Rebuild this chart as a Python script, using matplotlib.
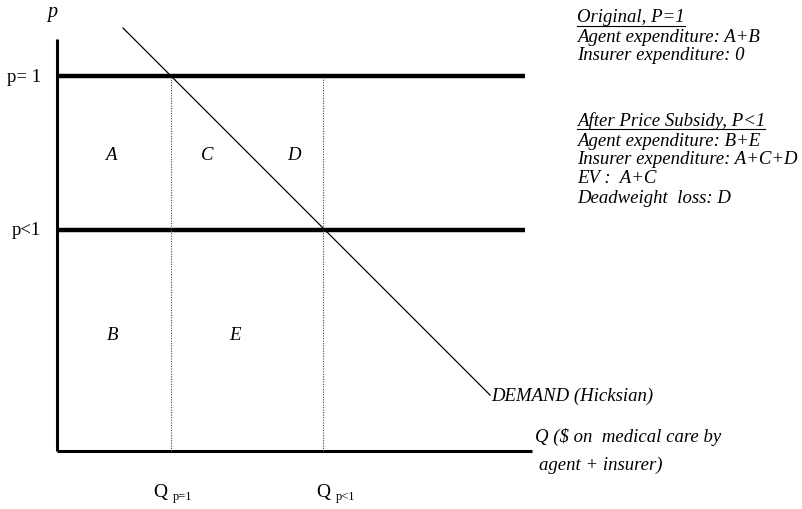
import matplotlib
matplotlib.use("Agg")
import matplotlib.pyplot as plt
from matplotlib.lines import Line2D

# ---- data (price / quantity units) ----
price_levels = [1.0, 0.59]          # p = 1, p < 1
price_labels = ["p= 1", "p<1"]
quantities = [0.304, 0.709]         # Q at p=1, Q at p<1
q_subscripts = ["p=1", "p<1"]
q_label_pos = [0.275, 0.709]        # centre of the "Q" tick labels
demand_q = [0.176, 1.155]
demand_p = [1.128, 0.149]
region_labels = ["A", "C", "D", "B", "E"]
region_q = [0.144, 0.400, 0.632, 0.147, 0.475]
region_p = [0.791, 0.791, 0.791, 0.312, 0.312]
axis_top = 1.099
axis_right = 1.267
hline_right = 1.248

notes_1_title = "Original, P=1"
notes_1 = ["Agent expenditure: A+B", "Insurer expenditure: 0"]
notes_2_title = "After Price Subsidy, P<1"
notes_2 = ["Agent expenditure: B+E", "Insurer expenditure: A+C+D",
           "EV :  A+C", "Deadweight  loss: D"]

W, H = 803, 510
scale = 375.0
ox, oy = 57, 452

fig = plt.figure(figsize=(W / 100, H / 100), dpi=100)
ax = fig.add_axes([0, 0, 1, 1])
ax.set_xlim(-ox / scale, (W - ox) / scale)
ax.set_ylim((oy - H) / scale, oy / scale)
ax.axis("off")

serif = "Liberation Serif"
fs = 13.5

# axes
ax.plot([0, 0], [0, axis_top], color="black", lw=2.2, solid_capstyle="butt")
ax.plot([0, axis_right], [0, 0], color="black", lw=2.2, solid_capstyle="butt")

# price lines
for p, lab in zip(price_levels, price_labels):
    ax.plot([0, hline_right], [p, p], color="black", lw=3.2, solid_capstyle="butt")
    ax.text(-0.042, p, lab, ha="right", va="center", fontsize=fs, family=serif)

# dotted verticals and Q labels
for q, qx, sub in zip(quantities, q_label_pos, q_subscripts):
    ax.plot([q, q], [0, price_levels[0]], color="#444444", lw=0.8, ls=(0, (1, 1.3)))
    t = ax.text(qx, -0.109, "Q", ha="center", va="center", fontsize=fs + 0.5, family=serif)
    ax.annotate(sub, xy=(1, 0), xycoords=t, xytext=(4, -1), textcoords="offset points",
                ha="left", va="bottom", fontsize=9, family=serif)

# demand
ax.plot(demand_q, demand_p, color="black", lw=0.9)
ax.text(demand_q[1] + 0.002, demand_p[1], "DEMAND (Hicksian)", ha="left", va="center",
        fontsize=fs, family=serif, style="italic")

# region labels
for lab, q, p in zip(region_labels, region_q, region_p):
    ax.text(q, p, lab, ha="center", va="center", fontsize=fs, family=serif, style="italic")

# axis labels
ax.text(-0.013, 1.173, "p", ha="center", va="center", fontsize=fs + 1, family=serif, style="italic")
ax.text(1.275, 0.04, "Q (\\$ on  medical care by", ha="left", va="center",
        fontsize=fs, family=serif, style="italic")
ax.text(1.285, -0.035, "agent + insurer)", ha="left", va="center",
        fontsize=fs, family=serif, style="italic")

# notes block (figure pixel coords)
def fig_xy(px, py):
    return px / W, 1 - py / H

x0 = 577
lines = [(notes_1_title, True)] + [(t, False) for t in notes_1] + [(None, False)] + \
        [(notes_2_title, True)] + [(t, False) for t in notes_2]
ys = [18, 37, 56, None, 121, 141, 160, 179, 199]
titles = []
yi = 0
for (t, ul) in lines:
    if t is None:
        yi += 1
        continue
    py = ys[yi]
    yi += 1
    tx = fig.text(*fig_xy(x0, py), t, ha="left", va="center", fontsize=fs,
                  family=serif, style="italic")
    if ul:
        titles.append((tx, py))

fig.canvas.draw()
r = fig.canvas.get_renderer()
for tx, py in titles:
    bb = tx.get_window_extent(r)
    yline = 1 - (py + 8.5) / H
    fig.add_artist(Line2D([bb.x0 / W, bb.x1 / W], [yline, yline], color="black", lw=0.8))

fig.savefig("out.png", dpi=100)
